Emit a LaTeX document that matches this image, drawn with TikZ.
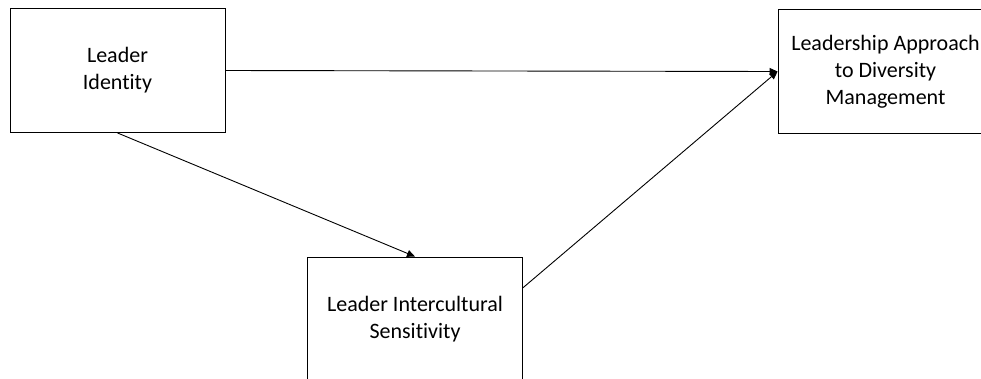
\documentclass[tikz,border=0pt]{standalone}
\usepackage{fontspec}
\setmainfont[Ligatures={NoCommon}]{Carlito}
\usetikzlibrary{arrows.meta,calc}
\begin{document}
\begin{tikzpicture}[x=1pt,y=-1pt,
  box/.style={draw=black,line width=0.9pt,minimum width=215pt,minimum height=124pt,
    inner sep=0pt,align=center,font=\fontsize{22}{27}\selectfont},
  link/.style={draw=black,line width=0.9pt,-{Triangle[length=8pt,width=7pt]}}]
  \useasboundingbox (0,0) rectangle (981,378);
  \clip (0,0) rectangle (981,378);
  \node[box] (ident) at (117.5,70.5) {Leader\\Identity};
  \node[box] (approach) at (885.5,71.5) {Leadership Approach\\to Diversity\\Management};
  \node[box] (sens) at (415,319) {Leader Intercultural\\Sensitivity};
  \coordinate (sensout) at ($(sens.north east)!0.25!(sens.south east)$);
  \draw[link] (ident.east) -- (approach.west);
  \draw[link] (ident.south) -- (sens.north);
  \draw[link] (sensout) -- (approach.west);
\end{tikzpicture}
\end{document}
